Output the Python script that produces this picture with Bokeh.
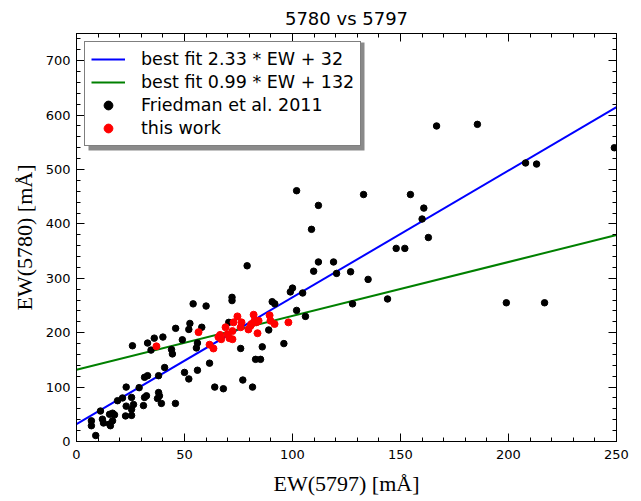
from bokeh.plotting import figure
from bokeh.models import Range1d, LinearAxis, Legend, LegendItem, SingleIntervalTicker, BoxAnnotation
from bokeh.embed import file_html
from bokeh.resources import INLINE
import numpy as np

# Friedman et al. 2011 (EW 5797, EW 5780) in mA
fried_x = [166.7, 185.6, 207.9, 213.0, 249.0, 132.9, 154.6, 160.8, 160.0, 162.9,
           148.0, 152.0, 112.0, 119.0, 109.8, 120.4, 126.9, 135.0, 127.8, 144.0,
           199.0, 216.7, 101.9, 112.0, 108.8, 100.0, 99.0, 104.7, 101.9, 106.0,
           79.0, 72.0, 72.0, 54.0, 60.0, 90.6, 91.8, 45.9, 52.5, 52.0,
           58.0, 70.5, 89.0, 49.0, 96.0, 86.0, 56.0, 55.5, 76.0, 61.6,
           82.9, 85.2, 50.0, 56.0, 52.0, 77.0, 64.0, 68.0, 81.5, 25.9,
           32.9, 36.0, 40.0, 34.5, 44.0, 44.4, 40.8, 32.9, 31.5, 38.0,
           23.0, 29.0, 19.0, 21.3, 25.5, 26.4, 23.0, 31.5, 32.4, 31.0,
           25.5, 38.4, 37.5, 39.3, 45.8, 11.1, 6.9, 6.9, 8.9, 12.0,
           12.5, 15.3, 16.7, 17.6, 15.3, 16.7, 15.7, 22.7, 25.5, 38.0]
fried_y = [580, 583, 512, 510, 540, 454, 454, 429, 409, 375,
           355, 355, 330, 330, 313, 309, 312, 298, 253, 262,
           255, 255, 461, 434, 390, 282, 275, 273, 241, 230,
           323, 265, 259, 253, 249, 257, 253, 208, 217, 206,
           210, 219, 205, 187, 180, 174, 181, 172, 171, 144,
           151, 151, 127, 131, 115, 113, 100, 97, 100, 176,
           181, 190, 192, 168, 169, 161, 136, 121, 118, 121,
           100, 99, 75, 80, 81, 68, 65, 81, 84, 66,
           59, 84, 79, 70, 70, 56, 38, 29, 11, 41,
           34, 50, 52, 49, 32, 38, 29, 47, 48, 90]

# this work
work_x = [37.0, 56.5, 61.6, 63.4, 65.7, 66.5, 69.0, 69.9, 70.8, 72.2,
          72.7, 72.2, 74.5, 76.4, 80.6, 79.6, 82.0, 82.4, 83.3, 84.3,
          83.8, 89.4, 89.8, 91.7, 98.1, 81.0, 67.0, 76.0]
work_y = [175, 201, 178, 171, 192, 196, 210, 197, 190, 203,
          219, 188, 230, 219, 213, 206, 233, 222, 219, 222,
          199, 232, 222, 216, 219, 216, 188, 210]

# best fits
fit_x = [0, 250]
blue_slope, blue_icpt = 2.33, 32
green_slope, green_icpt = 0.99, 132

legend_labels = ["best fit 2.33 * EW + 32", "best fit 0.99 * EW + 132",
                 "Friedman et al. 2011", "this work"]

p = figure(width=636, height=498, output_backend="svg", toolbar_location=None,
           x_range=Range1d(0, 250), y_range=Range1d(0, 750),
           min_border_left=76, min_border_right=20, min_border_top=32, min_border_bottom=50,
           title="5780 vs 5797")
p.title.text_font = "DejaVu Sans"
p.title.text_font_size = "18px"
p.title.text_font_style = "normal"
p.title.text_color = "black"
p.title.align = "center"

p.xgrid.visible = False
p.ygrid.visible = False
p.outline_line_color = "black"
p.outline_line_width = 1

fx = np.array(fit_x, dtype=float)
r_blue = p.line(fx, blue_slope * fx + blue_icpt, color="#0000ff", line_width=2)
r_green = p.line(fx, green_slope * fx + green_icpt, color="#008000", line_width=2)
r_black = p.scatter(fried_x, fried_y, size=6.5, color="black", line_color="black")
r_red = p.scatter(work_x, work_y, size=7, color="#ff0000", line_color="#ff0000")

def style_axis(ax, labels=True):
    ax.major_tick_in = 8
    ax.major_tick_out = 0
    ax.minor_tick_in = 4
    ax.minor_tick_out = 0
    ax.axis_line_color = "black"
    ax.major_tick_line_color = "black"
    ax.minor_tick_line_color = "black"
    ax.major_label_text_font = "DejaVu Sans"
    ax.major_label_text_font_size = "13px" if labels else "0px"
    ax.major_label_text_color = "black"
    ax.major_label_standoff = 6

p.xaxis.ticker = SingleIntervalTicker(interval=50, num_minor_ticks=5)
p.yaxis.ticker = SingleIntervalTicker(interval=100, num_minor_ticks=5)
for ax in p.xaxis + p.yaxis:
    style_axis(ax)
p.xaxis.major_label_standoff = 8

p.xaxis.axis_label = "EW(5797) [mÅ]"
p.yaxis.axis_label = "EW(5780) [mÅ]"
for ax in p.xaxis + p.yaxis:
    ax.axis_label_text_font = "Liberation Serif"
    ax.axis_label_text_font_size = "22px"
    ax.axis_label_text_font_style = "normal"
    ax.axis_label_text_color = "black"
p.xaxis.axis_label_standoff = 9
p.yaxis.axis_label_standoff = 6

top = LinearAxis(ticker=SingleIntervalTicker(interval=50, num_minor_ticks=5))
right = LinearAxis(ticker=SingleIntervalTicker(interval=100, num_minor_ticks=5))
style_axis(top, labels=False)
style_axis(right, labels=False)
top.major_label_text_color = None
right.major_label_text_color = None
p.add_layout(top, "above")
p.add_layout(right, "right")

# legend drop shadow (screen decoration)
shadow = BoxAnnotation(left=88, right=364, top=42, bottom=150,
                       left_units="canvas", right_units="canvas",
                       top_units="canvas", bottom_units="canvas",
                       fill_color="#8a8a8a", fill_alpha=1, line_color=None)
p.add_layout(shadow)

renderers = [r_blue, r_green, r_black, r_red]
legend = Legend(items=[LegendItem(label=l, renderers=[r]) for l, r in zip(legend_labels, renderers)],
                location="top_left")
legend.label_text_font = "DejaVu Sans"
legend.label_text_font_size = "17.5px"
legend.label_text_color = "black"
legend.padding = 6
legend.spacing = 1
legend.glyph_width = 34
legend.glyph_height = 22
legend.label_height = 22
legend.label_standoff = 16
legend.margin = 8
legend.background_fill_color = "white"
legend.background_fill_alpha = 1
legend.border_line_color = "black"
legend.border_line_width = 1.5
p.add_layout(legend)

open("out.html", "w").write(file_html(p, INLINE))
